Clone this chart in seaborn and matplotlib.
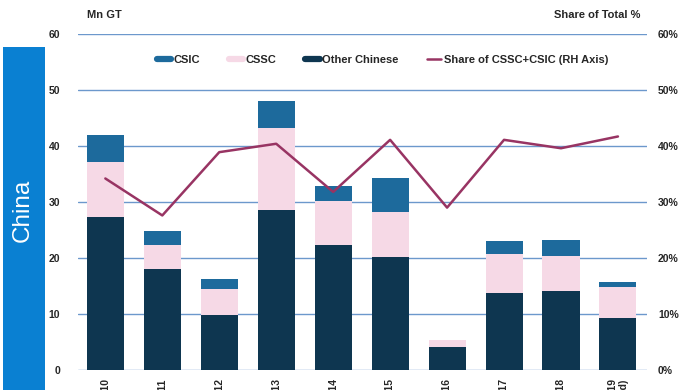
import numpy as np
import pandas as pd
import matplotlib
matplotlib.use("Agg")
import matplotlib.pyplot as plt
from matplotlib.lines import Line2D
from matplotlib.patches import Rectangle
import seaborn as sns

years = ["2010", "2011", "2012", "2013", "2014", "2015", "2016", "2017", "2018", "2019\n(ytd)"]
csic = [4.8, 2.5, 1.85, 4.9, 2.8, 5.9, 0.0, 2.3, 2.9, 1.0]
cssc = [9.8, 4.4, 4.6, 14.6, 7.8, 8.1, 1.35, 7.1, 6.3, 5.6]
other_chinese = [27.4, 18.0, 9.8, 28.6, 22.3, 20.2, 4.05, 13.7, 14.1, 9.2]
share_cssc_csic = [34.2, 27.6, 38.9, 40.4, 31.8, 41.1, 29.0, 41.1, 39.6, 41.7]

C_CSIC = "#1d6a9c"
C_CSSC = "#f6d9e6"
C_OTHER = "#0e3650"
C_LINE = "#983463"
C_GRID = "#6c98cc"

sns.set_theme(style="white")
plt.rcParams["font.family"] = ["Liberation Sans", "DejaVu Sans"]
plt.rcParams["font.weight"] = "bold"

df = pd.DataFrame({"year": years, "csic": csic, "cssc": cssc, "other": other_chinese,
                   "share": share_cssc_csic})
df["lower_two"] = df["other"] + df["cssc"]
df["total"] = df["lower_two"] + df["csic"]

fig = plt.figure(figsize=(6.89, 3.9), dpi=100)
ax = fig.add_axes([78 / 689, 1 - 370 / 390, (647 - 78) / 689, 336 / 390])

for yv in range(0, 70, 10):
    ax.axhline(yv, color=C_GRID, lw=1.0, zorder=0)

# stacked bars drawn as overlapping cumulative totals
for col, colr in [("total", C_CSIC), ("lower_two", C_CSSC), ("other", C_OTHER)]:
    sns.barplot(data=df, x="year", y=col, color=colr, width=0.65, saturation=1,
                edgecolor="none", linewidth=0, ax=ax, zorder=2)

ax.set_ylim(0, 60)
ax.set_xlim(-0.48, 9.51)
ax.set_yticks(range(0, 70, 10))
ax.set_ylabel("")
ax.set_xlabel("")
for s in ax.spines.values():
    s.set_visible(False)
ax.tick_params(axis="y", length=0, pad=13, labelsize=7.5)
ax.tick_params(axis="x", length=0, pad=6, labelsize=7.5, rotation=90)
for lbl in ax.get_xticklabels():
    lbl.set_fontweight("bold")
    lbl.set_va("top")
for lbl in ax.get_yticklabels():
    lbl.set_fontweight("bold")

ax2 = ax.twinx()
sns.lineplot(x=np.arange(len(years)), y=df["share"], color=C_LINE, lw=1.8, ax=ax2)
ax2.set_ylim(0, 60)
ax2.set_yticks(range(0, 70, 10))
ax2.set_yticklabels([f"{v}%" for v in range(0, 70, 10)])
ax2.set_ylabel("")
for s in ax2.spines.values():
    s.set_visible(False)
ax2.tick_params(axis="y", length=0, pad=8, labelsize=7.5)
for lbl in ax2.get_yticklabels():
    lbl.set_fontweight("bold")

handles = [
    Line2D([], [], color=C_CSIC, lw=4.5),
    Line2D([], [], color=C_CSSC, lw=4.5),
    Line2D([], [], color=C_OTHER, lw=4.5),
    Line2D([], [], color=C_LINE, lw=1.8),
]
names = ["CSIC", "CSSC", "Other Chinese", "Share of CSSC+CSIC (RH Axis)"]
ax2.legend(handles, names, loc="center", bbox_to_anchor=(0.535, 0.923), ncol=4,
           frameon=False, handlelength=1.3, handletextpad=0.2,
           columnspacing=2.6, prop={"weight": "bold", "size": 8})

fig.text(87 / 689, 1 - 15 / 390, "Mn GT", fontsize=8, fontweight="bold", va="center", ha="left")
fig.text(640 / 689, 1 - 15 / 390, "Share of Total %", fontsize=8, fontweight="bold",
         va="center", ha="right")

fig.patches.append(Rectangle((3 / 689, 0), 42 / 689, 1 - 47 / 390, transform=fig.transFigure,
                             facecolor="#0a80d2", edgecolor="none", zorder=0))
fig.text(23 / 689, 1 - 210 / 390, "China", rotation=90, color="white", fontsize=17.5,
         fontweight="normal", ha="center", va="center")

fig.savefig("out.png", dpi=100)
